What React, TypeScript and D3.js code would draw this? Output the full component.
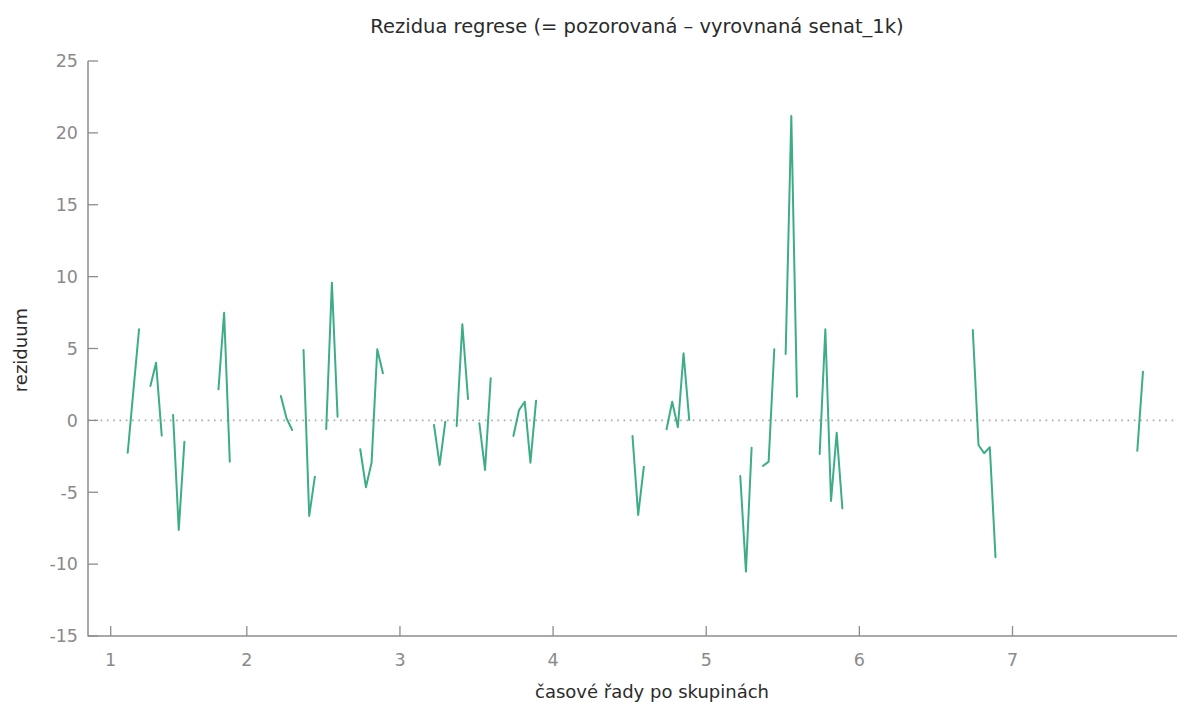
import React from 'react';
import * as d3 from 'd3';

// observation index of the first point of each plotted run, and the residuals of that run
const runStarts = [7, 11, 15, 23, 34, 38, 42, 48, 61, 65, 69, 75, 96, 102, 115, 119, 123, 129, 156, 185];
const runValues = [
  [-2.25, 2.05, 6.34],
  [2.39, 4.01, -1.06],
  [0.38, -7.62, -1.48],
  [2.16, 7.49, -2.87],
  [1.7, 0.15, -0.67],
  [4.9, -6.65, -3.92],
  [-0.6, 9.58, 0.26],
  [-2.01, -4.65, -2.94, 4.95, 3.28],
  [-0.32, -3.1, -0.09],
  [-0.39, 6.69, 1.49],
  [-0.2, -3.45, 2.93],
  [-1.09, 0.72, 1.3, -2.94, 1.37],
  [-1.09, -6.58, -3.22],
  [-0.62, 1.3, -0.48, 4.67, 0.03],
  [-3.87, -10.52, -1.9],
  [-3.17, -2.87, 4.95],
  [4.62, 21.18, 1.65],
  [-2.34, 6.34, -5.61, -0.86, -6.12],
  [6.29, -1.71, -2.29, -1.87, -9.52],
  [-2.11, 3.39],
];

const yTickValues = [-15, -10, -5, 0, 5, 10, 15, 20, 25];
const xTickPositions = [4, 28, 55, 82, 109, 136, 163];
const xTickLabels = ['1', '2', '3', '4', '5', '6', '7'];

const titleText = 'Rezidua regrese (= pozorovaná – vyrovnaná senat_1k)';
const xAxisTitle = 'časové řady po skupinách';
const yAxisTitle = 'reziduum';

const W = 1177;
const H = 704;
const FONT = '"DejaVu Sans", Verdana, sans-serif';

export default function App() {
  const x = d3.scaleLinear().domain([0, 192]).range([88, 1177]);
  const y = d3.scaleLinear().domain([-15, 25]).range([636, 61]);
  const line = d3
    .line<[number, number]>()
    .x((d) => x(d[0]))
    .y((d) => y(d[1]));

  const axisColor = '#8c8c8c';
  const tickTextColor = '#8a8a8a';
  const lineColor = '#22a077';

  return (
    <svg
      width={W}
      height={H}
      style={{ position: 'absolute', left: 0, top: 0, background: '#fff' }}
      fontFamily={FONT}
    >
      <rect x={0} y={0} width={W} height={H} fill="#fff" />
      {/* zero line */}
      <line
        x1={x(0)}
        x2={W}
        y1={y(0)}
        y2={y(0)}
        stroke="#a8a8a8"
        strokeWidth={1.6}
        strokeDasharray="1.6,4.7"
      />
      {/* axes */}
      <line x1={x(0)} x2={x(0)} y1={y(25)} y2={y(-15) + 0.5} stroke={axisColor} strokeWidth={1.5} />
      <line x1={x(0)} x2={W} y1={y(-15)} y2={y(-15)} stroke={axisColor} strokeWidth={1.5} />
      {yTickValues.map((v) => (
        <g key={'y' + v}>
          <line x1={x(0)} x2={x(0) + 10} y1={y(v)} y2={y(v)} stroke={axisColor} strokeWidth={1.3} />
          <text
            x={78}
            y={y(v)}
            dy="0.36em"
            textAnchor="end"
            fontSize={17.5}
            fill={tickTextColor}
          >
            {v}
          </text>
        </g>
      ))}
      {xTickPositions.map((p, i) => (
        <g key={'x' + i}>
          <line x1={x(p)} x2={x(p)} y1={y(-15)} y2={y(-15) - 10} stroke={axisColor} strokeWidth={1.3} />
          <text x={x(p)} y={666} textAnchor="middle" fontSize={17.5} fill={tickTextColor}>
            {xTickLabels[i]}
          </text>
        </g>
      ))}
      {/* residual runs */}
      {runStarts.map((s, i) => (
        <path
          key={'r' + i}
          d={line(runValues[i].map((v, j) => [s + j, v] as [number, number])) || ''}
          fill="none"
          stroke={lineColor}
          strokeWidth={2}
          strokeLinejoin="round"
          strokeLinecap="round"
          opacity={0.88}
        />
      ))}
      {/* titles */}
      <text x={637} y={33} textAnchor="middle" fontSize={19.5} fill="#2b2b2b">
        {titleText}
      </text>
      <text x={652} y={698} textAnchor="middle" fontSize={18} fill="#2b2b2b">
        {xAxisTitle}
      </text>
      <text
        transform={`translate(27, 350) rotate(-90)`}
        textAnchor="middle"
        fontSize={18}
        fill="#2b2b2b"
      >
        {yAxisTitle}
      </text>
    </svg>
  );
}
